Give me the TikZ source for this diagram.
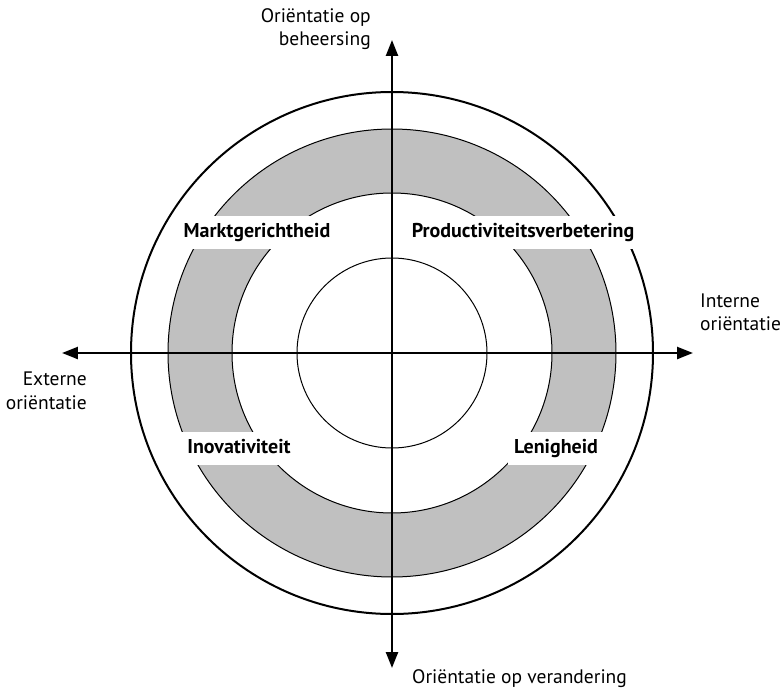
\documentclass[tikz,border=0pt]{standalone}
\usepackage{fontspec}
\setmainfont{PT Sans}
\usetikzlibrary{arrows.meta}
\definecolor{ringgray}{HTML}{C0C0C0}
\tikzset{
  axis/.style={line width=2.4pt, -{Triangle[length=16pt,width=12pt]}},
  quadlabel/.style={fill=white, font=\bfseries\fontsize{20}{24}\selectfont,
    text height=14pt, text depth=4pt, inner xsep=6pt, inner ysep=7.5pt},
  axislabel/.style={font=\fontsize{19.5}{23.5}\selectfont, inner sep=0pt},
}
\begin{document}
\begin{tikzpicture}[x=1pt,y=1pt]
  \useasboundingbox (-392,-338) rectangle (389,353);
  % shaded ring
  \fill[ringgray, even odd rule] (0,0) circle[radius=224] (0,0) circle[radius=160];
  \draw[line width=1pt] (0,0) circle[radius=224];
  \draw[line width=1pt] (0,0) circle[radius=160];
  \draw[line width=1pt] (0,0) circle[radius=95];
  \draw[line width=2pt] (0,0) circle[radius=261];
  % axis end points
  \coordinate (W) at (-330,0);
  \coordinate (E) at (301,0);
  \coordinate (N) at (0,313);
  \coordinate (S) at (0,-315);
  \coordinate (C) at (0,0);
  % quadrant labels on white patches
  \node[quadlabel] (markt) at (-135,121) {Marktgerichtheid};
  \node[quadlabel] (prod) at (131,121) {Productiviteitsverbetering};
  \node[quadlabel] (inov) at (-153,-95) {Inovativiteit};
  \node[quadlabel] (lenig) at (164,-95) {Lenigheid};
  % axes
  \draw[axis] (C) -- (W);
  \draw[axis] (C) -- (E);
  \draw[axis] (C) -- (N);
  \draw[axis] (C) -- (S);
  % axis labels
  \node[axislabel, align=right, anchor=north east] (beh) at (-21,345) {Oriëntatie op\\beheersing};
  \node[axislabel, align=left, anchor=south west] (int) at (308,22) {Interne\\oriëntatie};
  \node[axislabel, align=right, anchor=north east] (ext) at (-305,-19) {Externe\\oriëntatie};
  \node[axislabel, anchor=west] (ver) at (20,-326) {Oriëntatie op verandering};
\end{tikzpicture}
\end{document}
